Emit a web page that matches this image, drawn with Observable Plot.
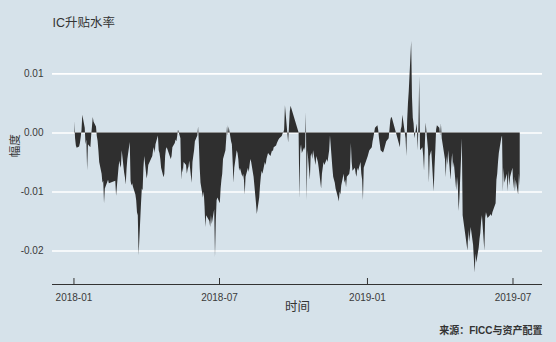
<!DOCTYPE html>
<html><head><meta charset="utf-8">
<script src="https://cdn.jsdelivr.net/npm/d3@7"></script>
<script src="https://cdn.jsdelivr.net/npm/@observablehq/plot@0.6"></script>
<style>
html,body{margin:0;padding:0;background:#d6e2ea;}
#chart{width:556px;height:342px;}
</style></head><body><div id="chart"></div>
<script>
// Daily IC basis rate, one value per trading day, grouped by month
const m2018_01 = [0.0019,-0.0010,-0.0022,-0.0026,-0.0024,-0.0018,-0.0008,0.0004,0.0030,0.0008,-0.0020,-0.0012,-0.0064,-0.0020,-0.0025,-0.0005,0.0010,0.0026,0.0018,0.0010,-0.0006,-0.0014];
const m2018_02 = [-0.0030,-0.0050,-0.0070,-0.0085,-0.0082,-0.0120,-0.0095,-0.0084,-0.0080,-0.0086,-0.0082,-0.0107,-0.0060,-0.0048,-0.0055];
const m2018_03 = [-0.0060,-0.0030,-0.0068,-0.0076,-0.0088,-0.0062,-0.0045,-0.0016,-0.0082,-0.0090,-0.0086,-0.0092,-0.0105,-0.0115,-0.0135,-0.0140,-0.0208,-0.0120,-0.0095,-0.0098,-0.0060,-0.0040];
const m2018_04 = [-0.0078,-0.0070,-0.0055,-0.0040,-0.0030,-0.0025,-0.0035,-0.0020,-0.0005,-0.0030,-0.0035,-0.0045,-0.0060,-0.0076,-0.0070,-0.0040,-0.0028,-0.0025];
const m2018_05 = [-0.0045,-0.0040,-0.0025,-0.0018,-0.0012,-0.0015,-0.0006,0.0005,-0.0010,-0.0080,-0.0060,-0.0068,-0.0050,-0.0055,-0.0070,-0.0062,-0.0058,-0.0048,-0.0085,-0.0050,-0.0040,-0.0030];
const m2018_06 = [-0.0015,-0.0005,0.0010,-0.0020,-0.0060,-0.0085,-0.0110,-0.0100,-0.0125,-0.0160,-0.0140,-0.0150,-0.0160,-0.0140,-0.0155,-0.0130,-0.0211,-0.0150,-0.0115,-0.0110];
const m2018_07 = [-0.0120,-0.0095,-0.0080,-0.0070,-0.0045,-0.0030,-0.0010,0.0012,-0.0005,0.0010,-0.0015,-0.0020,-0.0050,-0.0085,-0.0060,-0.0030,-0.0035,-0.0045,-0.0065,-0.0060,-0.0075,-0.0070];
const m2018_08 = [-0.0080,-0.0105,-0.0075,-0.0060,-0.0067,-0.0055,-0.0045,-0.0050,-0.0075,-0.0090,-0.0105,-0.0120,-0.0138,-0.0110,-0.0090,-0.0075,-0.0065,-0.0070,-0.0050,-0.0055,-0.0045,-0.0040,-0.0035];
const m2018_09 = [-0.0040,-0.0035,-0.0030,-0.0032,-0.0025,-0.0022,-0.0018,-0.0015,-0.0012,-0.0010,-0.0006,-0.0002,0.0000,0.0005,0.0046,-0.0017,0.0010,0.0035,0.0045];
const m2018_10 = [0.0000,-0.0112,-0.0030,-0.0020,-0.0035,-0.0025,-0.0030,0.0034,-0.0115,-0.0030,-0.0080,-0.0040,-0.0035,-0.0045,-0.0030,-0.0055,-0.0040,-0.0045];
const m2018_11 = [-0.0050,-0.0060,-0.0095,-0.0070,-0.0060,-0.0050,-0.0055,-0.0045,-0.0050,-0.0040,-0.0030,-0.0005,-0.0060,-0.0075,-0.0080,-0.0085,-0.0095,-0.0110,-0.0117,-0.0100,-0.0105,-0.0090];
const m2018_12 = [-0.0070,-0.0085,-0.0080,-0.0093,-0.0075,-0.0070,-0.0060,-0.0018,-0.0050,-0.0065,-0.0060,-0.0070,-0.0075,-0.0060,-0.0065,-0.0050,-0.0070,-0.0080,-0.0115,-0.0060];
const m2019_01 = [-0.0040,-0.0035,-0.0030,-0.0025,-0.0015,-0.0008,0.0000,0.0008,0.0012,0.0004,-0.0010,-0.0020,-0.0030,-0.0034,-0.0030,-0.0025,-0.0020,-0.0015,-0.0010,0.0005,0.0020,0.0026];
const m2019_02 = [0.0025,-0.0025,0.0005,0.0010,0.0030,0.0020,-0.0010,-0.0040,0.0020,0.0050,0.0070,0.0155,0.0060,0.0025,0.0015];
const m2019_03 = [-0.0010,0.0015,-0.0030,0.0010,0.0095,-0.0030,-0.0025,-0.0040,-0.0065,-0.0020,0.0017,-0.0030,-0.0085,-0.0040,-0.0035,-0.0030,-0.0100,-0.0060,-0.0030,0.0005,0.0012];
const m2019_04 = [0.0008,-0.0005,0.0015,-0.0010,-0.0045,-0.0076,-0.0040,-0.0055,-0.0030,-0.0080,-0.0050,-0.0035,-0.0060,-0.0050,-0.0098,-0.0075,-0.0090,-0.0133,-0.0110,-0.0010,-0.0140];
const m2019_05 = [-0.0200,-0.0165,-0.0185,-0.0175,-0.0160,-0.0190,-0.0215,-0.0237,-0.0205,-0.0220,-0.0195,-0.0180,-0.0170,-0.0150,-0.0140,-0.0200,-0.0145,-0.0135,-0.0140,-0.0145];
const m2019_06 = [-0.0140,-0.0138,-0.0142,-0.0135,-0.0120,-0.0080,-0.0070,-0.0050,-0.0035,-0.0010,-0.0005,-0.0100,-0.0060,-0.0085,-0.0070,-0.0100,-0.0065,-0.0090,-0.0075];
const m2019_07 = [-0.0060,-0.0095,-0.0075,-0.0100,-0.0080,-0.0105,-0.0070,-0.0090];

// Exchange holidays that fall on weekdays
const holidays = ["2018-01-01","2018-02-15","2018-02-16","2018-02-19","2018-02-20","2018-02-21","2018-04-05","2018-04-06","2018-04-30","2018-05-01","2018-06-18","2018-09-24","2018-10-01","2018-10-02","2018-10-03","2018-10-04","2018-10-05","2018-12-31","2019-01-01","2019-02-04","2019-02-05","2019-02-06","2019-02-07","2019-02-08","2019-04-05","2019-05-01","2019-05-02","2019-05-03","2019-06-07"];

// Axis tick labels
const yTicks = [0.01, 0.00, -0.01, -0.02];
const xTickLabels = ["2018-01", "2018-07", "2019-01", "2019-07"];

const months = [
  ["2018-01", m2018_01], ["2018-02", m2018_02], ["2018-03", m2018_03], ["2018-04", m2018_04],
  ["2018-05", m2018_05], ["2018-06", m2018_06], ["2018-07", m2018_07], ["2018-08", m2018_08],
  ["2018-09", m2018_09], ["2018-10", m2018_10], ["2018-11", m2018_11], ["2018-12", m2018_12],
  ["2019-01", m2019_01], ["2019-02", m2019_02], ["2019-03", m2019_03], ["2019-04", m2019_04],
  ["2019-05", m2019_05], ["2019-06", m2019_06], ["2019-07", m2019_07]
];

function tradingDays(ym) {
  const [y, m] = ym.split("-").map(Number);
  const out = [];
  for (let d = 1; d <= 31; d++) {
    const dt = new Date(Date.UTC(y, m - 1, d));
    if (dt.getUTCMonth() !== m - 1) break;
    const w = dt.getUTCDay();
    if (w === 0 || w === 6) continue;
    if (holidays.includes(dt.toISOString().slice(0, 10))) continue;
    out.push(dt);
  }
  return out;
}

const data = [];
for (const [ym, vals] of months) {
  const days = tradingDays(ym);
  vals.forEach((v, i) => data.push({date: days[i], value: v}));
}

const xTicks = xTickLabels.map(s => new Date(s + "-01T00:00:00Z"));

// ggplot-style 5% expansion of the data range
const [x0, x1] = d3.extent(data, d => +d.date);
const xPad = (x1 - x0) * 0.05;
const xDomain = [new Date(x0 - xPad), new Date(x1 + xPad)];
const [v0, v1] = d3.extent(data, d => d.value);
const yPad = (v1 - v0) * 0.05;
const yDomain = [v0 - yPad, v1 + yPad];

const W = 556, H = 342, mL = 52, mR = 14, mT = 29.3, mB = 58;
const frameH = H - mT - mB;
const ink = "#3a3a3a";

const chart = Plot.plot({
  width: W, height: H,
  marginLeft: mL, marginRight: mR, marginTop: mT, marginBottom: mB,
  style: {background: "#d6e2ea", fontFamily: "'Liberation Sans','Noto Sans CJK SC',sans-serif", fontSize: "10px", color: ink},
  x: {type: "utc", domain: xDomain},
  y: {domain: yDomain},
  marks: [
    Plot.ruleY(yTicks, {stroke: "#ffffff", strokeWidth: 1.6}),
    Plot.areaY(data, {x: "date", y1: 0, y2: "value", fill: "#2f2f2f"}),
    Plot.ruleY([yDomain[0]], {stroke: "#333333", strokeWidth: 1}),
    Plot.tickX(xTicks, {x: d => d, stroke: "#333333", insetTop: frameH - 6}),
    Plot.axisX(xTicks, {tickSize: 0, tickPadding: 9, tickFormat: d3.utcFormat("%Y-%m"), label: null}),
    Plot.axisY(yTicks, {tickSize: 0, tickPadding: 9, tickFormat: d => d.toFixed(2), label: null}),
    Plot.text(["IC升贴水率"], {frameAnchor: "top-left", dy: -12, textAnchor: "start", fontSize: 12.5, fill: "#333"}),
    Plot.text(["幅度"], {frameAnchor: "left", dx: -37, rotate: -90, fontSize: 11.5, fill: "#333"}),
    Plot.text(["时间"], {frameAnchor: "bottom", dy: 26, fontSize: 12.5, fill: "#333"}),
    Plot.text(["来源：FICC与资产配置"], {frameAnchor: "bottom-right", dy: 49, textAnchor: "end", fontSize: 10, fontWeight: "bold", fill: "#333"})
  ]
});
document.getElementById("chart").appendChild(chart);
</script></body></html>
